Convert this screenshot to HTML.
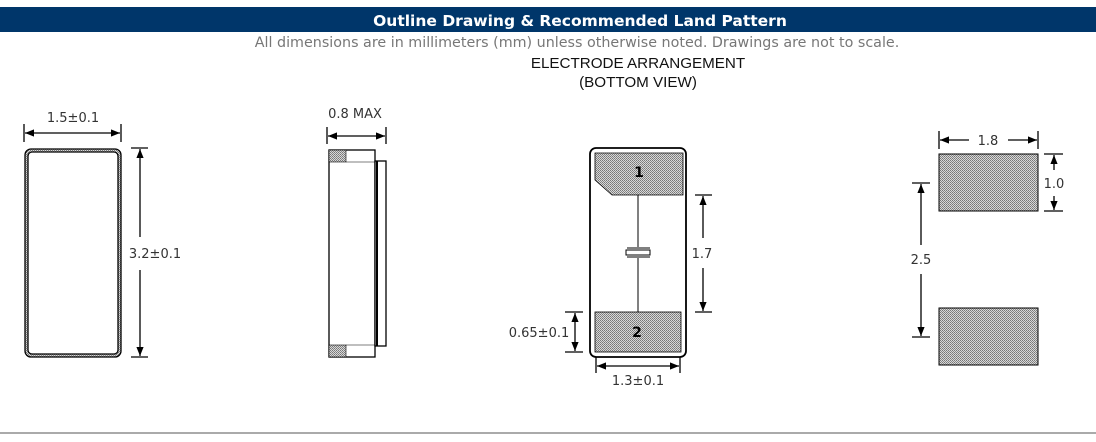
<!DOCTYPE html>
<html><head><meta charset="utf-8"><style>
html,body{margin:0;padding:0;background:#fff;width:1096px;height:442px;overflow:hidden}
svg{display:block}
</style></head><body>
<svg width="1096" height="442" viewBox="0 0 1096 442" xmlns="http://www.w3.org/2000/svg">
<defs>
<pattern id="dots" width="2" height="2" patternUnits="userSpaceOnUse">
<rect width="2" height="2" fill="#d8d8d8"/><rect width="1" height="1" fill="#777"/><rect x="1" y="1" width="1" height="1" fill="#888"/>
</pattern>
<marker id="a" viewBox="0 0 10 10" refX="10" refY="5" markerWidth="9" markerHeight="9" orient="auto-start-reverse" markerUnits="userSpaceOnUse"><path d="M0,1 L10,5 L0,9 z" fill="#000"/></marker>
</defs>
<rect x="0" y="7" width="1096" height="25" fill="#00366a"/>
<text x="580" y="26" text-anchor="middle" font-weight="bold" font-size="15.5" fill="#fff" style="font-family:'DejaVu Sans',sans-serif">Outline Drawing &amp; Recommended Land Pattern</text>
<text x="577" y="47" text-anchor="middle" font-size="14.3" fill="#777" style="font-family:'DejaVu Sans',sans-serif">All dimensions are in millimeters (mm) unless otherwise noted. Drawings are not to scale.</text>
<text x="638" y="68" text-anchor="middle" font-size="15.2" fill="#111" style="font-family:'Liberation Sans',sans-serif">ELECTRODE ARRANGEMENT</text>
<text x="638" y="87" text-anchor="middle" font-size="15.2" fill="#111" style="font-family:'Liberation Sans',sans-serif">(BOTTOM VIEW)</text>
<rect x="0" y="432" width="1096" height="2" fill="#aaa"/>

<g stroke="#000" stroke-width="1.3" fill="none">
<rect x="25" y="149" width="96" height="208" rx="6" fill="url(#dots)"/>
<rect x="28" y="152" width="90" height="202" rx="4" fill="#fff"/>
<line x1="24" y1="124" x2="24" y2="142"/><line x1="121" y1="124" x2="121" y2="142"/>
<line x1="25" y1="133" x2="120" y2="133" marker-start="url(#a)" marker-end="url(#a)"/>
<line x1="131" y1="148" x2="148" y2="148"/><line x1="131" y1="357" x2="148" y2="357"/>
<line x1="140" y1="149" x2="140" y2="237" marker-start="url(#a)"/>
<line x1="140" y1="270" x2="140" y2="356" marker-end="url(#a)"/>
<line x1="327" y1="127" x2="327" y2="144"/><line x1="386" y1="127" x2="386" y2="144"/>
<line x1="328" y1="136" x2="385" y2="136" marker-start="url(#a)" marker-end="url(#a)"/>
<rect x="329" y="150" width="46" height="207" fill="#fff"/>
<rect x="329" y="150" width="17" height="12" fill="url(#dots)" stroke-width="0.6"/>
<rect x="329" y="345" width="17" height="12" fill="url(#dots)" stroke-width="0.6"/>
<line x1="346" y1="162" x2="375" y2="162" stroke-width="0.6"/>
<line x1="346" y1="345" x2="375" y2="345" stroke-width="0.6"/>
<rect x="375" y="161" width="11" height="185" fill="#fff"/>
<line x1="377" y1="161" x2="377" y2="346" stroke-width="2"/>
<rect x="590" y="148" width="96" height="209" rx="6" fill="#fff" stroke-width="1.8"/>
<path d="M595,153 L683,153 L683,195 L612,195 L595,180 Z" fill="url(#dots)" stroke-width="0.8"/>
<rect x="595" y="312" width="86" height="40" fill="url(#dots)" stroke-width="0.8"/>
<line x1="638" y1="195" x2="638" y2="247" stroke-width="1"/>
<line x1="638" y1="258" x2="638" y2="312" stroke-width="1"/>
<line x1="627" y1="248" x2="650" y2="248" stroke-width="1"/>
<line x1="627" y1="257" x2="650" y2="257" stroke-width="1"/>
<rect x="626" y="250" width="24" height="5" stroke-width="1"/>
<line x1="695" y1="195" x2="712" y2="195"/><line x1="695" y1="312" x2="712" y2="312"/>
<line x1="703" y1="196" x2="703" y2="238" marker-start="url(#a)"/>
<line x1="703" y1="268" x2="703" y2="311" marker-end="url(#a)"/>
<line x1="565" y1="312" x2="583" y2="312"/><line x1="565" y1="352" x2="583" y2="352"/>
<line x1="575" y1="313" x2="575" y2="351" marker-start="url(#a)" marker-end="url(#a)"/>
<line x1="596" y1="357" x2="596" y2="373"/><line x1="680" y1="357" x2="680" y2="373"/>
<line x1="597" y1="366" x2="679" y2="366" marker-start="url(#a)" marker-end="url(#a)"/>
<rect x="939" y="154" width="99" height="57" fill="url(#dots)" stroke-width="1"/>
<rect x="939" y="308" width="99" height="57" fill="url(#dots)" stroke-width="1"/>
<line x1="939" y1="131" x2="939" y2="149"/><line x1="1038" y1="131" x2="1038" y2="149"/>
<line x1="940" y1="140" x2="969" y2="140" marker-start="url(#a)"/>
<line x1="1008" y1="140" x2="1037" y2="140" marker-end="url(#a)"/>
<line x1="1044" y1="154" x2="1063" y2="154"/><line x1="1044" y1="211" x2="1063" y2="211"/>
<line x1="1054" y1="155" x2="1054" y2="170" marker-start="url(#a)"/>
<line x1="1054" y1="196" x2="1054" y2="210" marker-end="url(#a)"/>
<line x1="912" y1="183" x2="930" y2="183"/><line x1="912" y1="337" x2="930" y2="337"/>
<line x1="921" y1="184" x2="921" y2="245" marker-start="url(#a)"/>
<line x1="921" y1="274" x2="921" y2="336" marker-end="url(#a)"/>
</g>
<g font-size="13" fill="#333" style="font-family:'DejaVu Sans',sans-serif">
<text x="73" y="122" text-anchor="middle">1.5±0.1</text>
<text x="155" y="258" text-anchor="middle">3.2±0.1</text>
<text x="355" y="118" text-anchor="middle">0.8 MAX</text>
<text x="702" y="258" text-anchor="middle">1.7</text>
<text x="539" y="337" text-anchor="middle">0.65±0.1</text>
<text x="638" y="385" text-anchor="middle">1.3±0.1</text>
<text x="988" y="145" text-anchor="middle">1.8</text>
<text x="1054" y="188" text-anchor="middle">1.0</text>
<text x="921" y="264" text-anchor="middle">2.5</text>
<text x="639" y="177" text-anchor="middle" font-weight="bold" font-size="14" fill="#000">1</text>
<text x="637" y="337" text-anchor="middle" font-weight="bold" font-size="14" fill="#000">2</text>
</g>
</svg>
</body></html>
